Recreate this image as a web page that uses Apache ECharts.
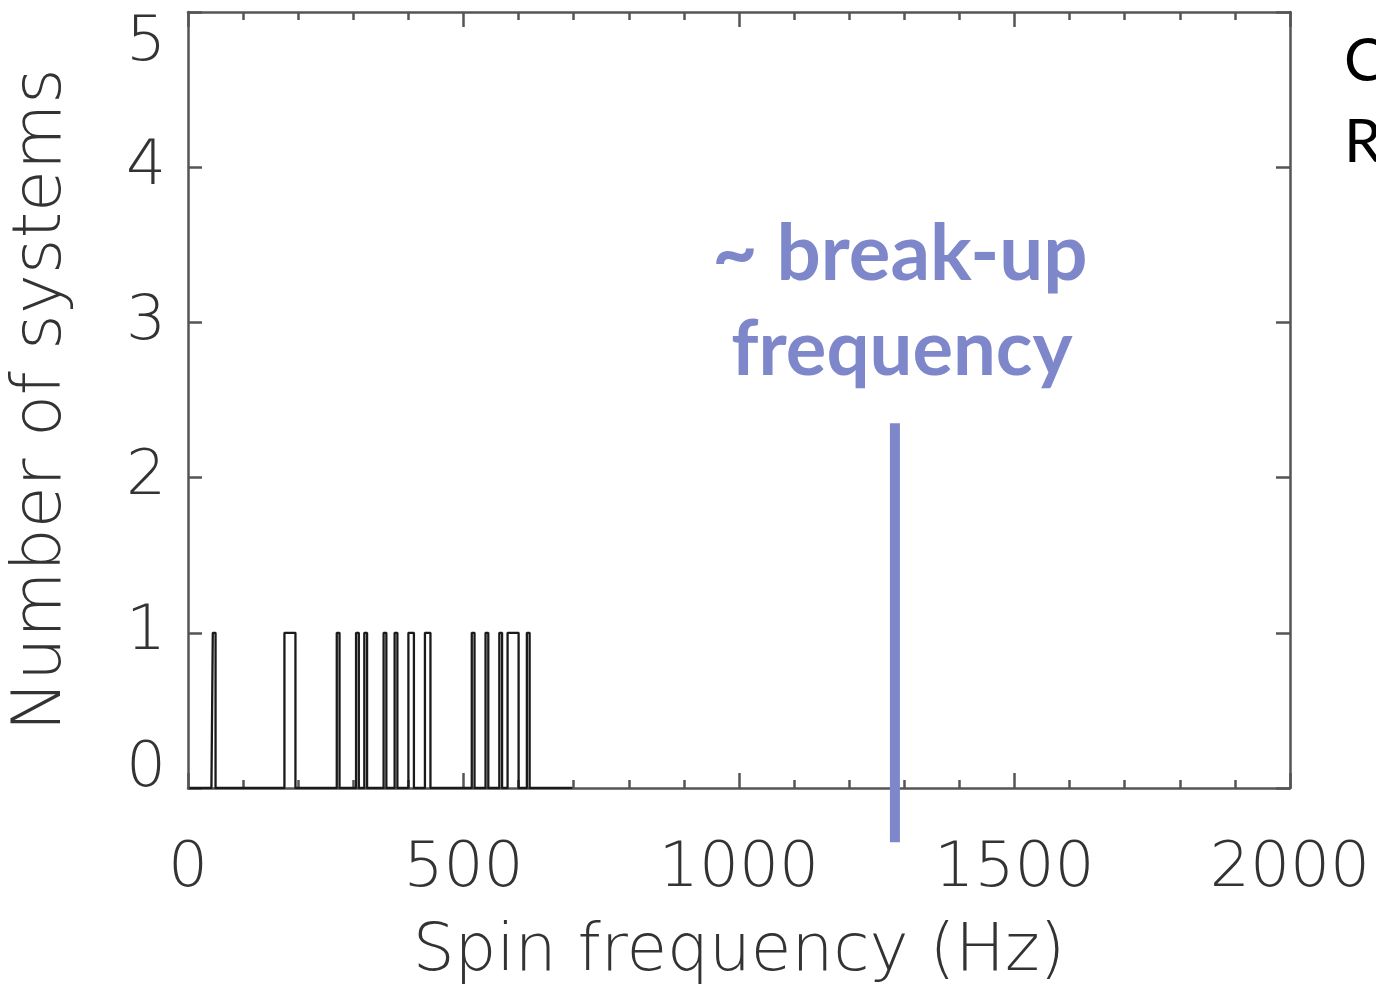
<!DOCTYPE html>
<html><head><meta charset="utf-8">
<script src="https://cdn.jsdelivr.net/npm/echarts@6/dist/echarts.min.js"></script>
<style>html,body{margin:0;padding:0;background:#fff;}#c{width:1376px;height:990px;}</style>
</head><body><div id="c"></div>
<script>
// Spin frequencies (Hz) of the systems
var spinFreqs = [45, 177, 182, 187, 192, 271, 309, 324, 359, 375, 401, 406, 432, 437, 519, 544, 566, 580, 585, 590, 595, 618];
var binWidth = 5;
var xTicks = [0, 500, 1000, 1500, 2000];
var yTicks = [0, 1, 2, 3, 4, 5];
var breakupFreq = 1283;
var breakupLineRange = [-0.35, 2.35];
var breakupLabel = ['~ break-up', 'frequency'];
var sideLetters = ['C', 'R'];

// histogram counts per bin
var counts = {};
spinFreqs.forEach(function (f) { var b = Math.floor(f / binWidth); counts[b] = (counts[b] || 0) + 1; });
var histData = [];
for (var b = 0; b * binWidth < 700; b++) {
  histData.push([(b + 0.5) * binWidth, counts[b] || 0]);
}

var chart = echarts.init(document.getElementById('c'));
var fontFam = '"DejaVu Sans", sans-serif';
var axisCol = '#555';
var labelStyle = {fontFamily: fontFam, fontWeight: 200, fontSize: 63, color: '#333'};

var option = {
  backgroundColor: '#fff',
  animation: false,
  grid: {left: 188, top: 12, width: 1102, height: 776, containLabel: false, outerBoundsMode: 'none'},
  xAxis: [{
    type: 'value', min: xTicks[0], max: xTicks[xTicks.length - 1], interval: 500,
    position: 'bottom',
    axisLine: {show: true, onZero: false, lineStyle: {color: axisCol, width: 2.5}},
    axisTick: {show: true, inside: true, length: 15, lineStyle: {color: axisCol, width: 2.5}},
    minorTick: {show: true, splitNumber: 5, length: 8, lineStyle: {color: axisCol, width: 2.5}},
    splitLine: {show: false},
    axisLabel: Object.assign({margin: 50, formatter: function (v) { return String(v); }}, labelStyle),
    name: 'Spin frequency (Hz)', nameLocation: 'middle', nameGap: 132,
    nameTextStyle: {fontFamily: fontFam, fontWeight: 200, fontSize: 66, color: '#333'}
  }, {
    type: 'value', min: xTicks[0], max: xTicks[xTicks.length - 1], interval: 500,
    position: 'top',
    axisLine: {show: true, onZero: false, lineStyle: {color: axisCol, width: 2.5}},
    axisTick: {show: true, inside: true, length: 15, lineStyle: {color: axisCol, width: 2.5}},
    minorTick: {show: true, splitNumber: 5, length: 8, lineStyle: {color: axisCol, width: 2.5}},
    splitLine: {show: false},
    axisLabel: {show: false}
  }],
  yAxis: [{
    type: 'value', min: yTicks[0], max: yTicks[yTicks.length - 1], interval: 1,
    position: 'left',
    axisLine: {show: true, onZero: false, lineStyle: {color: axisCol, width: 2.5}},
    axisTick: {show: true, inside: true, length: 14, lineStyle: {color: axisCol, width: 2.5}},
    splitLine: {show: false},
    axisLabel: Object.assign({
      margin: 22, verticalAlignMinLabel: 'bottom', verticalAlignMaxLabel: 'top',
      formatter: function (v) { return v === yTicks[0] ? '{z|' + v + '}' : String(v); },
      rich: {z: {fontFamily: fontFam, fontSize: 63, color: '#333', lineHeight: 36}}
    }, labelStyle),
    name: 'Number of systems', nameLocation: 'middle', nameGap: 112, nameRotate: 90,
    nameTextStyle: {fontFamily: fontFam, fontWeight: 200, fontSize: 68, color: '#333'}
  }, {
    type: 'value', min: yTicks[0], max: yTicks[yTicks.length - 1], interval: 1,
    position: 'right',
    axisLine: {show: true, onZero: false, lineStyle: {color: axisCol, width: 2.5}},
    axisTick: {show: true, inside: true, length: 14, lineStyle: {color: axisCol, width: 2.5}},
    splitLine: {show: false},
    axisLabel: {show: false}
  }],
  series: [{
    type: 'line', step: 'middle', data: histData, symbol: 'none',
    lineStyle: {color: '#1a1a1a', width: 2.3}, xAxisIndex: 0, yAxisIndex: 0
  }, {
    type: 'line', data: [[breakupFreq, breakupLineRange[0]], [breakupFreq, breakupLineRange[1]]],
    symbol: 'none', clip: false, lineStyle: {color: '#7f87cb', width: 10, cap: 'butt'},
    xAxisIndex: 0, yAxisIndex: 0, z: 5
  }]
};
chart.setOption(option);

var p = chart.convertToPixel({xAxisIndex: 0, yAxisIndex: 0}, [breakupFreq, breakupLineRange[1]]);
chart.setOption({
  graphic: [{
    type: 'text', x: p[0] + 5, y: 255,
    style: {text: breakupLabel[0], fontFamily: 'Lato, "Open Sans", sans-serif', fontWeight: 'bold', fontSize: 78, fill: '#7f87cb', align: 'center', verticalAlign: 'middle'}
  }, {
    type: 'text', x: p[0] + 7, y: 350,
    style: {text: breakupLabel[1], fontFamily: 'Lato, "Open Sans", sans-serif', fontWeight: 'bold', fontSize: 76, fill: '#7f87cb', align: 'center', verticalAlign: 'middle'}
  }, {
    type: 'text', x: 1344, y: 62,
    style: {text: sideLetters[0], fontFamily: 'Lato, sans-serif', fontSize: 60, fill: '#000', verticalAlign: 'middle'}
  }, {
    type: 'text', x: 1344, y: 143,
    style: {text: sideLetters[1], fontFamily: 'Lato, sans-serif', fontSize: 60, fill: '#000', verticalAlign: 'middle'}
  }]
});
</script></body></html>
